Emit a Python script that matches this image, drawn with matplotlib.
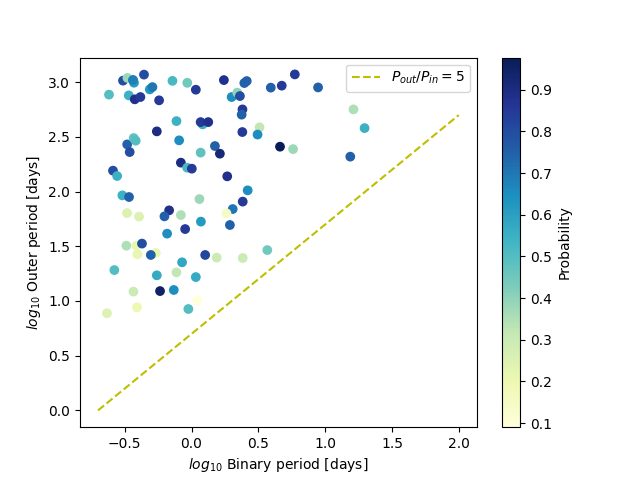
import numpy as np
import matplotlib
matplotlib.use('Agg')
import matplotlib.pyplot as plt

# log10 of binary (inner) period, days
p_in = [-0.618, -0.513, -0.480, -0.438, -0.431, -0.356, -0.470, -0.425, -0.383, -0.313,
        -0.293, -0.243, -0.143, -0.032, 0.032, 0.242, 0.395, 0.413, 0.300, 0.342,
        0.362, 0.593, 0.675, 0.773, 0.947, -0.113, 0.083, 0.068, 0.125, 0.381,
        0.375, -0.260, -0.093, 0.380, 0.509, 0.494, 0.662, 0.760, 1.188, 1.212,
        1.295, -0.482, -0.433, -0.418, -0.463, 0.068, 0.175, 0.212, -0.080, -0.033,
        0.002, -0.588, -0.557, 0.267, 0.420, -0.518, -0.468, 0.059, 0.383, 0.308,
        0.261, -0.168, -0.203, -0.080, -0.483, -0.393, 0.070, 0.287, -0.048, -0.183,
        -0.488, -0.413, -0.371, -0.405, -0.268, -0.305, 0.102, 0.188, 0.383, 0.567,
        -0.578, -0.071, -0.260, -0.113, 0.032, -0.435, -0.236, -0.133, 0.042, -0.024,
        -0.408, -0.633, -0.438]
# log10 of outer period, days
p_out = [2.886, 3.014, 3.039, 3.016, 2.995, 3.069, 2.879, 2.843, 2.864, 2.934,
         2.955, 2.834, 3.012, 2.994, 2.931, 3.019, 2.992, 3.010, 2.864, 2.904,
         2.873, 2.950, 2.968, 3.071, 2.952, 2.644, 2.614, 2.635, 2.635, 2.751,
         2.703, 2.550, 2.468, 2.544, 2.587, 2.521, 2.410, 2.388, 2.319, 2.751,
         2.580, 2.431, 2.489, 2.465, 2.361, 2.356, 2.416, 2.346, 2.264, 2.218,
         2.209, 2.191, 2.142, 2.139, 2.011, 1.965, 1.950, 1.931, 1.908, 1.840,
         1.801, 1.828, 1.773, 1.785, 1.803, 1.771, 1.725, 1.694, 1.657, 1.615,
         1.505, 1.505, 1.524, 1.426, 1.438, 1.420, 1.420, 1.396, 1.392, 1.465,
         1.282, 1.353, 1.234, 1.261, 1.218, 1.085, 1.090, 1.100, 1.003, 0.926,
         0.941, 0.887, 3.020]
prob = [0.50, 0.80, 0.38, 0.65, 0.62, 0.80, 0.55, 0.88, 0.85, 0.62,
        0.70, 0.85, 0.52, 0.45, 0.85, 0.88, 0.75, 0.75, 0.65, 0.40,
        0.80, 0.75, 0.85, 0.85, 0.75, 0.55, 0.55, 0.85, 0.88, 0.85,
        0.75, 0.90, 0.65, 0.85, 0.32, 0.65, 0.977, 0.38, 0.75, 0.35,
        0.55, 0.75, 0.48, 0.50, 0.80, 0.48, 0.75, 0.92, 0.90, 0.52,
        0.85, 0.80, 0.55, 0.88, 0.65, 0.55, 0.75, 0.38, 0.85, 0.70,
        0.15, 0.88, 0.75, 0.35, 0.25, 0.25, 0.62, 0.75, 0.85, 0.65,
        0.35, 0.22, 0.80, 0.22, 0.22, 0.75, 0.82, 0.30, 0.30, 0.45,
        0.50, 0.58, 0.57, 0.32, 0.57, 0.30, 0.95, 0.65, 0.09, 0.50,
        0.20, 0.25, 0.68]

line_x = [-0.7, 2.0]
ratio = 5

plt.figure(figsize=(6.4, 4.8))
sc = plt.scatter(p_in, p_out, c=prob, cmap='YlGnBu')
plt.plot(line_x, np.array(line_x) + np.log10(ratio), 'y--', label=r'$P_{out}/P_{in}=5$')
cb = plt.colorbar(sc)
cb.set_label('Probability')
plt.xlabel(r'$log_{10}$ Binary period [days]')
plt.ylabel(r'$log_{10}$ Outer period [days]')
plt.legend(loc='upper right')
plt.savefig('out.png')
